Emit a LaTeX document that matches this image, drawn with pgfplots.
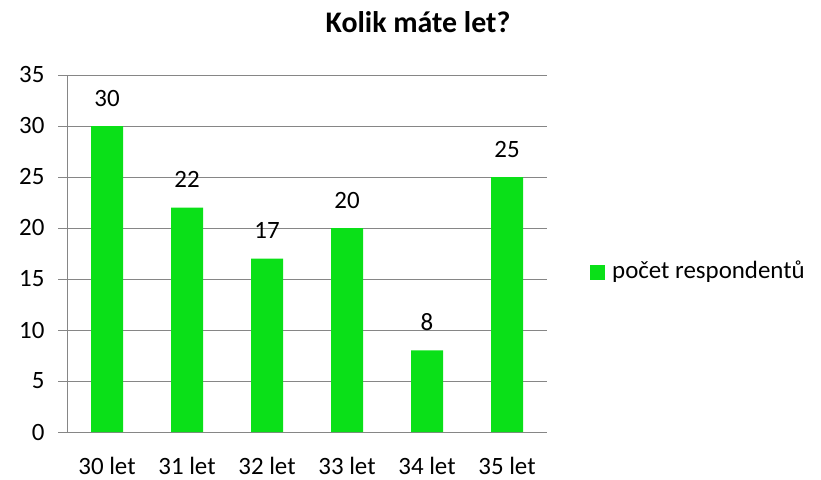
\documentclass[border=0pt]{standalone}
\usepackage{pgfplots}
\pgfplotsset{compat=1.18}
\usepackage{fontspec}
\setmainfont{Carlito}
\definecolor{barg}{RGB}{10,224,24}
\definecolor{gridg}{RGB}{134,134,134}
\begin{document}
\begin{tikzpicture}[x=1bp,y=1bp]
\useasboundingbox (0,0) rectangle (821,-480);
\begin{axis}[
  at={(67bp,-432bp)}, anchor=south west,
  scale only axis, width=480bp, height=357bp,
  ymin=0, ymax=35, ytick={0,5,...,35},
  xmin=-0.5, xmax=5.5,
  xtick={0,...,5}, xticklabels={30 let,31 let,32 let,33 let,34 let,35 let},
  extra x ticks={-0.5,0.5,1.5,2.5,3.5,4.5,5.5},
  extra x tick labels={},
  extra x tick style={major tick length=9bp, tick style={gridg, line width=1pt}, tick align=outside},
  x tick style={draw=none},
  ymajorgrids, grid style={gridg, line width=1pt},
  y tick style={gridg, line width=1pt}, major tick length=9bp, tick align=outside,
  axis x line*=bottom, axis y line*=left,
  axis line style={gridg, line width=1pt},
  tick label style={font=\fontsize{25}{28}\selectfont},
  xticklabel style={anchor=base, yshift=-33bp},
  yticklabel style={xshift=-10bp},
  /pgf/number format/assume math mode=true,
  ybar, bar width=32bp,
  nodes near coords,
  every node near coord/.append style={font=\fontsize{25}{28}\selectfont, black, anchor=base, yshift=20bp, inner sep=0pt},
  clip=false,
]
\addplot[fill=barg, draw=none] coordinates {(0,30) (1,22) (2,17) (3,20) (4,8) (5,25)};
\end{axis}
\node[font=\bfseries\fontsize{30}{34}\selectfont, anchor=base, inner sep=0pt] at (418,-33) {Kolik máte let?};
\fill[barg] (590,-265) rectangle (605,-280);
\node[anchor=base west, font=\fontsize{25}{28}\selectfont, inner sep=0pt] at (612,-279) {počet respondentů};
\end{tikzpicture}
\end{document}
